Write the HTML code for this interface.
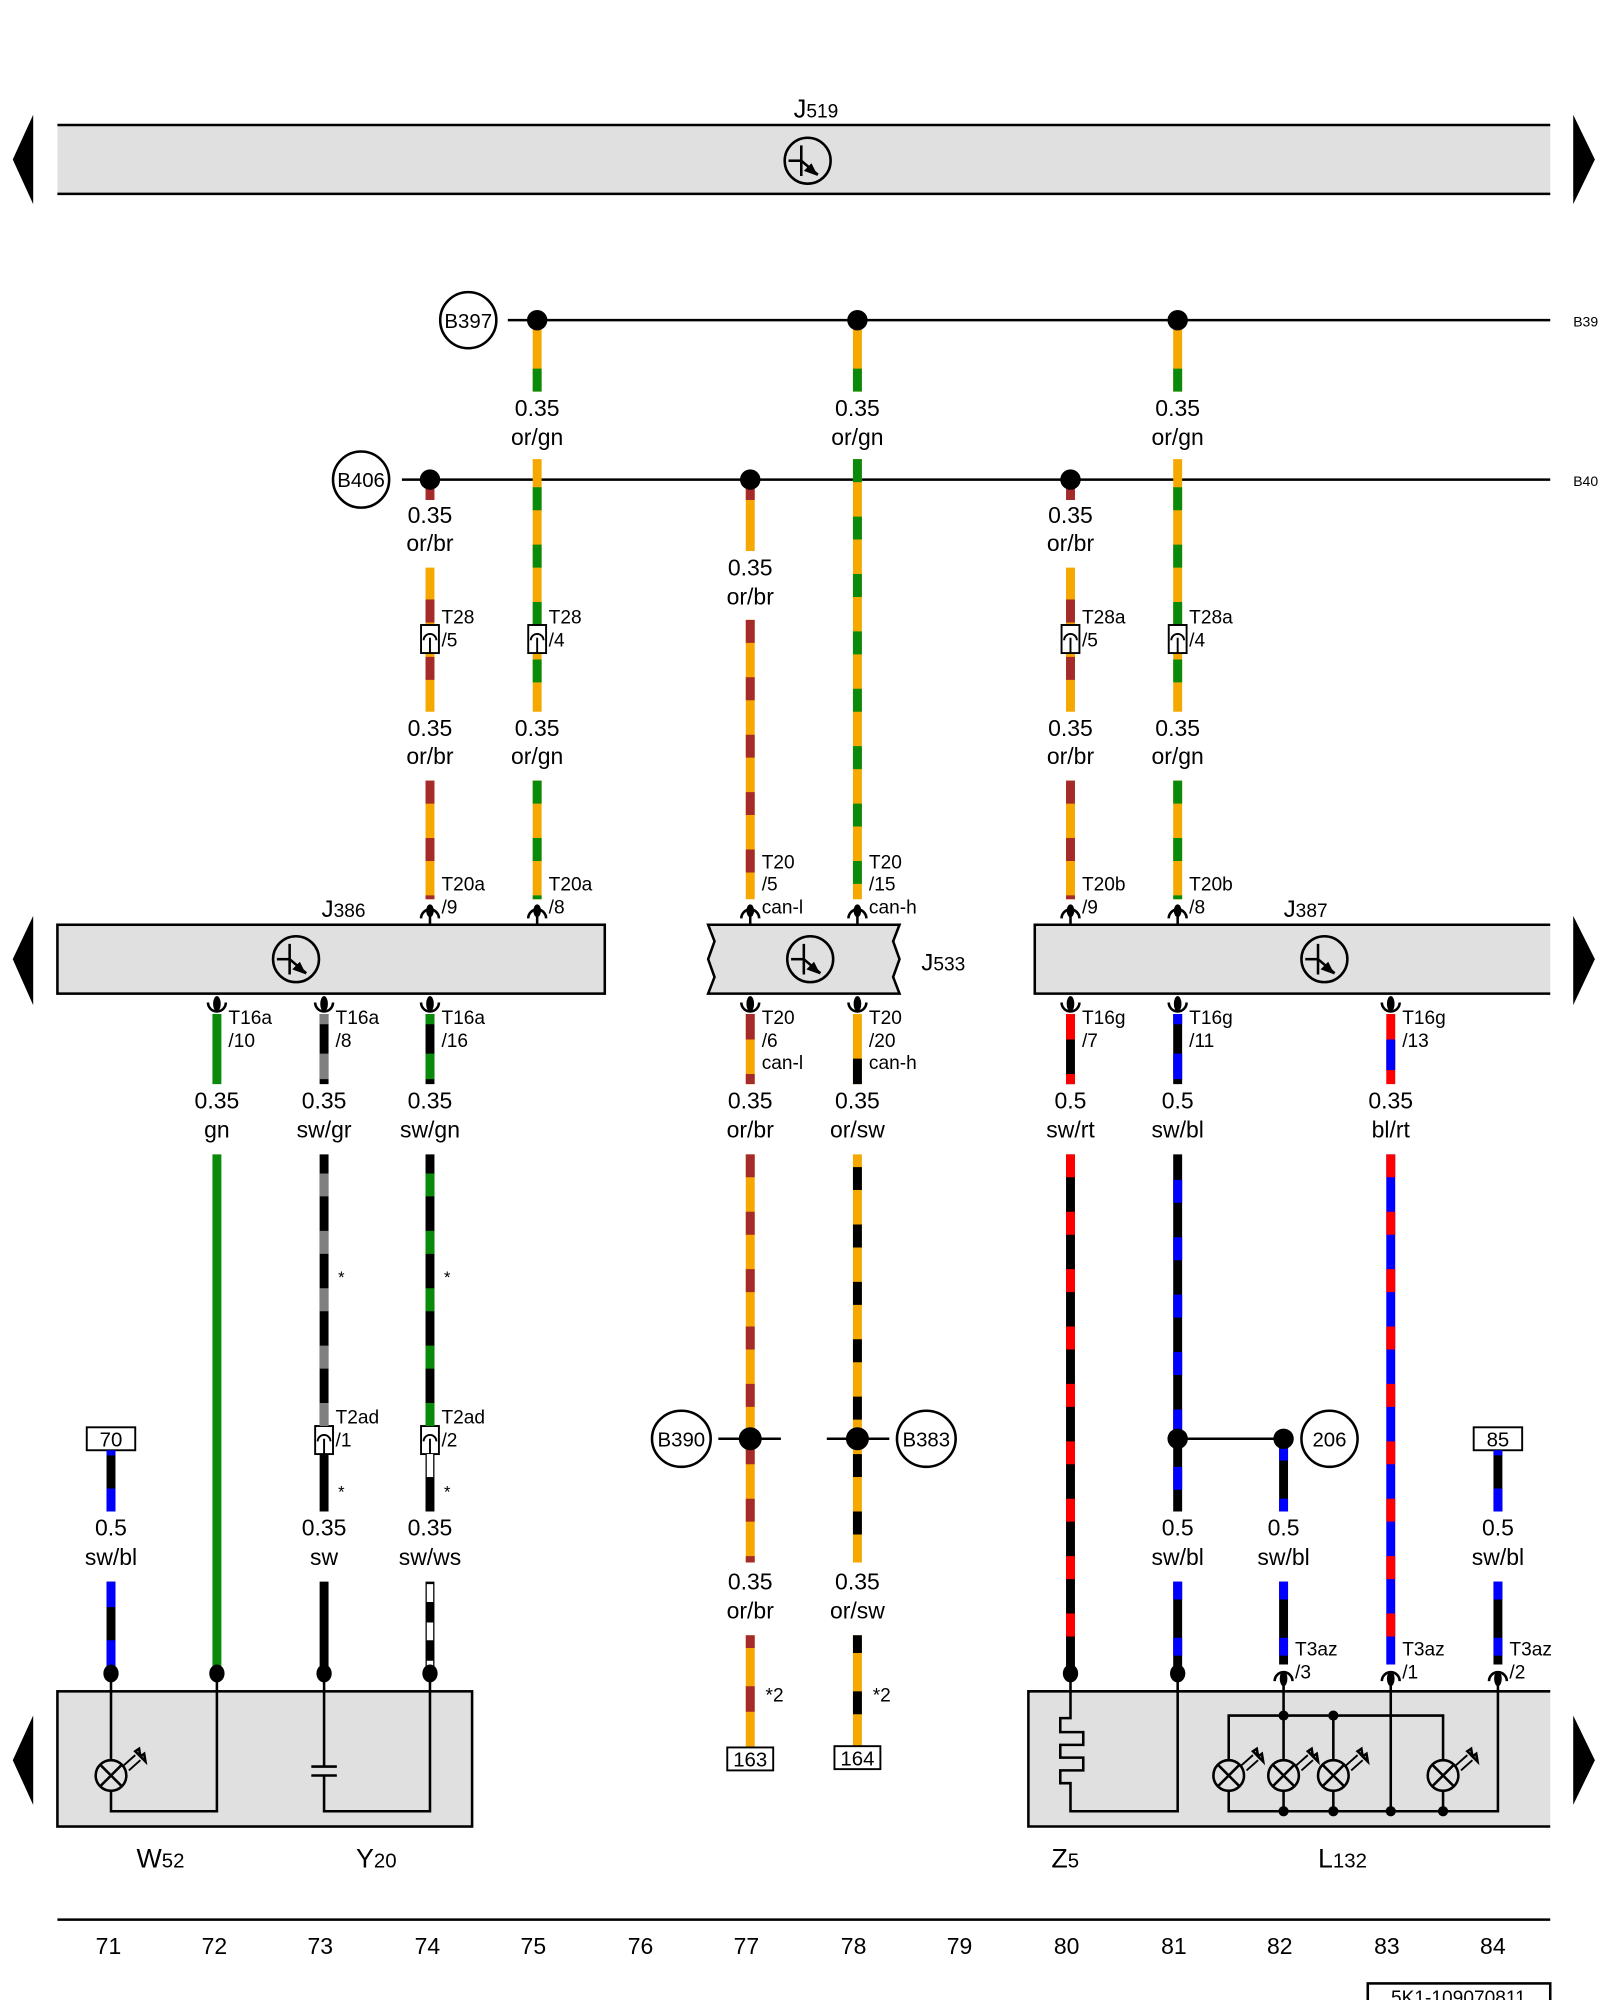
<!DOCTYPE html>
<html><head><meta charset="utf-8"><style>
html,body{margin:0;padding:0;background:#fff}
svg{display:block}
text{font-family:"Liberation Sans",sans-serif;fill:#000}
.l{stroke:#000;stroke-width:2;fill:none}
.t{stroke:#000;stroke-width:1.5;fill:none}
.w{stroke-width:7}
.d{stroke-width:7;stroke-dasharray:18 27}
.g{font-size:18px;text-anchor:middle}
.s{font-size:15px}
.n{font-size:18px;text-anchor:middle}
.gr{fill:#e0e0e0 !important}
.wh{fill:#fff !important}
</style></head><body>
<svg width="1600" height="2000" viewBox="0 0 1254 1568" preserveAspectRatio="none" xmlns="http://www.w3.org/2000/svg">
<!-- J519 -->
<rect x="45" y="98" width="1170" height="54" fill="#e0e0e0"/>
<line class="l" x1="45" y1="98" x2="1215" y2="98"/><line class="l" x1="45" y1="152" x2="1215" y2="152"/>
<polygon points="26,90 10,125 26,160"/><polygon points="1233,90 1250,125 1233,160"/>
<text x="622" y="92" font-size="20">J<tspan font-size="15">519</tspan></text>
<g id="tr"><circle cx="633" cy="126" r="18" class="l"/><line class="l" x1="628" y1="114" x2="628" y2="138"/><line class="l" x1="618" y1="126" x2="628" y2="126"/><line class="l" x1="628" y1="126" x2="641" y2="137"/><polygon points="641,138 630,134 636,128"/></g>

<!-- buses -->
<line class="l" x1="398" y1="251" x2="1215" y2="251"/>
<ellipse cx="367" cy="251" rx="22" ry="22" class="l wh"/><text x="367" y="257" font-size="16" text-anchor="middle">B397</text>
<text x="1233" y="256" font-size="11">B39</text>
<line class="l" x1="315" y1="376" x2="1215" y2="376"/>
<ellipse cx="283" cy="376" rx="22" ry="22" class="l wh"/><text x="283" y="382" font-size="16" text-anchor="middle">B406</text>
<text x="1233" y="381" font-size="11">B40</text>

<!-- top wires or/gn cols 421,672,923 -->
<g>
<line class="w" stroke="#f5a800" x1="421" y1="251" x2="421" y2="307"/><line class="d" stroke="#0a8a0a" x1="421" y1="262" x2="421" y2="307" style="stroke-dashoffset:-27"/>
<line class="w" stroke="#f5a800" x1="672" y1="251" x2="672" y2="307"/><line class="d" stroke="#0a8a0a" x1="672" y1="262" x2="672" y2="307" style="stroke-dashoffset:-27"/>
<line class="w" stroke="#f5a800" x1="923" y1="251" x2="923" y2="307"/><line class="d" stroke="#0a8a0a" x1="923" y1="262" x2="923" y2="307" style="stroke-dashoffset:-27"/>
</g>
<text class="g" x="421" y="326">0.35</text><text class="g" x="421" y="349">or/gn</text>
<text class="g" x="672" y="326">0.35</text><text class="g" x="672" y="349">or/gn</text>
<text class="g" x="923" y="326">0.35</text><text class="g" x="923" y="349">or/gn</text>

<line class="w" stroke="#f5a800" x1="421" y1="360" x2="421" y2="558"/><line class="d" stroke="#0a8a0a" x1="421" y1="382" x2="421" y2="558"/>
<line class="w" stroke="#f5a800" x1="421" y1="612" x2="421" y2="705"/><line class="d" stroke="#0a8a0a" x1="421" y1="612" x2="421" y2="705"/>
<line class="w" stroke="#f5a800" x1="923" y1="360" x2="923" y2="558"/><line class="d" stroke="#0a8a0a" x1="923" y1="382" x2="923" y2="558"/>
<line class="w" stroke="#f5a800" x1="923" y1="612" x2="923" y2="705"/><line class="d" stroke="#0a8a0a" x1="923" y1="612" x2="923" y2="705"/>
<line class="w" stroke="#f5a800" x1="672" y1="360" x2="672" y2="705"/><line class="d" stroke="#0a8a0a" x1="672" y1="360" x2="672" y2="705"/>
<line class="w" stroke="#a52a2a" x1="337" y1="376" x2="337" y2="392"/>
<line class="w" stroke="#f5a800" x1="337" y1="445" x2="337" y2="558"/><line class="d" stroke="#a52a2a" x1="337" y1="470" x2="337" y2="558"/>
<line class="w" stroke="#f5a800" x1="337" y1="612" x2="337" y2="705"/><line class="d" stroke="#a52a2a" x1="337" y1="612" x2="337" y2="705"/>
<line class="w" stroke="#a52a2a" x1="839" y1="376" x2="839" y2="392"/>
<line class="w" stroke="#f5a800" x1="839" y1="445" x2="839" y2="558"/><line class="d" stroke="#a52a2a" x1="839" y1="470" x2="839" y2="558"/>
<line class="w" stroke="#f5a800" x1="839" y1="612" x2="839" y2="705"/><line class="d" stroke="#a52a2a" x1="839" y1="612" x2="839" y2="705"/>
<line class="w" stroke="#f5a800" x1="588" y1="376" x2="588" y2="432"/><line class="d" stroke="#a52a2a" x1="588" y1="376" x2="588" y2="432" style="stroke-dasharray:16 42 20 99"/>
<line class="w" stroke="#f5a800" x1="588" y1="486" x2="588" y2="705"/><line class="d" stroke="#a52a2a" x1="588" y1="486" x2="588" y2="705"/>

<circle cx="421" cy="251" r="8"/><circle cx="672" cy="251" r="8"/><circle cx="923" cy="251" r="8"/>
<circle cx="337" cy="376" r="8"/><circle cx="588" cy="376" r="8"/><circle cx="839" cy="376" r="8"/>

<text class="g" x="337" y="410">0.35</text><text class="g" x="337" y="432">or/br</text>
<text class="g" x="839" y="410">0.35</text><text class="g" x="839" y="432">or/br</text>
<text class="g" x="588" y="451">0.35</text><text class="g" x="588" y="474">or/br</text>
<text class="g" x="337" y="577">0.35</text><text class="g" x="337" y="599">or/br</text>
<text class="g" x="421" y="577">0.35</text><text class="g" x="421" y="599">or/gn</text>
<text class="g" x="839" y="577">0.35</text><text class="g" x="839" y="599">or/br</text>
<text class="g" x="923" y="577">0.35</text><text class="g" x="923" y="599">or/gn</text>

<!-- inline connectors -->
<g class="t wh">
<rect x="330" y="490" width="14" height="22"/><rect x="414" y="490" width="14" height="22"/>
<rect x="832" y="490" width="14" height="22"/><rect x="916" y="490" width="14" height="22"/>
<rect x="247" y="1118" width="14" height="22"/><rect x="330" y="1118" width="14" height="22"/>
</g>
<g class="t">
<path d="M332,502 A5,5 0 0 1 342,502 M337,500 V512"/><path d="M416,502 A5,5 0 0 1 426,502 M421,500 V512"/>
<path d="M834,502 A5,5 0 0 1 844,502 M839,500 V512"/><path d="M918,502 A5,5 0 0 1 928,502 M923,500 V512"/>
<path d="M249,1130 A5,5 0 0 1 259,1130 M254,1128 V1140"/><path d="M332,1130 A5,5 0 0 1 342,1130 M337,1128 V1140"/>
</g>
<g class="s">
<text x="346" y="489">T28</text><text x="346" y="507">/5</text>
<text x="430" y="489">T28</text><text x="430" y="507">/4</text>
<text x="848" y="489">T28a</text><text x="848" y="507">/5</text>
<text x="932" y="489">T28a</text><text x="932" y="507">/4</text>
<text x="263" y="1116">T2ad</text><text x="263" y="1134">/1</text>
<text x="346" y="1116">T2ad</text><text x="346" y="1134">/2</text>
</g>

<!-- module boxes -->
<rect x="45" y="725" width="429" height="54" class="l gr"/>
<path d="M555,725 H705 L700,738 L705,752 L700,766 L705,779 H555 L560,766 L555,752 L560,738 Z" class="l gr"/>
<rect x="811" y="725" width="404" height="54" fill="#e0e0e0"/>
<path class="l" d="M1215,725 H811 V779 H1215"/>
<polygon points="26,718 10,752 26,788"/><polygon points="1233,718 1250,752 1233,788"/>
<use href="#tr" transform="translate(-401,626)"/>
<use href="#tr" transform="translate(2,626)"/>
<use href="#tr" transform="translate(405,626)"/>
<text x="252" y="719" font-size="19">J<tspan font-size="15">386</tspan></text>
<text x="1006" y="719" font-size="19">J<tspan font-size="15">387</tspan></text>
<text x="722" y="761" font-size="19">J<tspan font-size="15">533</tspan></text>

<g class="l" stroke-width="2.5">
<path d="M330,720 A7,7 0 0 1 344,720"/><path d="M414,720 A7,7 0 0 1 428,720"/>
<path d="M581,720 A7,7 0 0 1 595,720"/><path d="M665,720 A7,7 0 0 1 679,720"/>
<path d="M832,720 A7,7 0 0 1 846,720"/><path d="M916,720 A7,7 0 0 1 930,720"/>
</g>
<g stroke="#000" stroke-width="2">
<line x1="337" y1="710" x2="337" y2="725"/><line x1="421" y1="710" x2="421" y2="725"/>
<line x1="588" y1="710" x2="588" y2="725"/><line x1="672" y1="710" x2="672" y2="725"/>
<line x1="839" y1="710" x2="839" y2="725"/><line x1="923" y1="710" x2="923" y2="725"/>
</g>
<g fill="#000"><ellipse cx="337" cy="714" rx="3" ry="5"/><ellipse cx="421" cy="714" rx="3" ry="5"/><ellipse cx="588" cy="714" rx="3" ry="5"/><ellipse cx="672" cy="714" rx="3" ry="5"/><ellipse cx="839" cy="714" rx="3" ry="5"/><ellipse cx="923" cy="714" rx="3" ry="5"/></g>
<g class="s">
<text x="346" y="698">T20a</text><text x="346" y="716">/9</text>
<text x="430" y="698">T20a</text><text x="430" y="716">/8</text>
<text x="597" y="681">T20</text><text x="597" y="698">/5</text><text x="597" y="716">can-l</text>
<text x="681" y="681">T20</text><text x="681" y="698">/15</text><text x="681" y="716">can-h</text>
<text x="848" y="698">T20b</text><text x="848" y="716">/9</text>
<text x="932" y="698">T20b</text><text x="932" y="716">/8</text>
</g>

<g class="l" stroke-width="2.5">
<path d="M163,786 A7,7 0 0 0 177,786"/><path d="M247,786 A7,7 0 0 0 261,786"/><path d="M330,786 A7,7 0 0 0 344,786"/>
<path d="M581,786 A7,7 0 0 0 595,786"/><path d="M665,786 A7,7 0 0 0 679,786"/>
<path d="M832,786 A7,7 0 0 0 846,786"/><path d="M916,786 A7,7 0 0 0 930,786"/><path d="M1083,786 A7,7 0 0 0 1097,786"/>
</g>
<g fill="#000"><ellipse cx="170" cy="787" rx="3" ry="6"/><ellipse cx="254" cy="787" rx="3" ry="6"/><ellipse cx="337" cy="787" rx="3" ry="6"/><ellipse cx="588" cy="787" rx="3" ry="6"/><ellipse cx="672" cy="787" rx="3" ry="6"/><ellipse cx="839" cy="787" rx="3" ry="6"/><ellipse cx="923" cy="787" rx="3" ry="6"/><ellipse cx="1090" cy="787" rx="3" ry="6"/></g>
<g class="s">
<text x="179" y="803">T16a</text><text x="179" y="821">/10</text>
<text x="263" y="803">T16a</text><text x="263" y="821">/8</text>
<text x="346" y="803">T16a</text><text x="346" y="821">/16</text>
<text x="597" y="803">T20</text><text x="597" y="821">/6</text><text x="597" y="838">can-l</text>
<text x="681" y="803">T20</text><text x="681" y="821">/20</text><text x="681" y="838">can-h</text>
<text x="848" y="803">T16g</text><text x="848" y="821">/7</text>
<text x="932" y="803">T16g</text><text x="932" y="821">/11</text>
<text x="1099" y="803">T16g</text><text x="1099" y="821">/13</text>
</g>

<line class="w" stroke="#0a8a0a" x1="170" y1="795" x2="170" y2="850"/>
<line class="w" stroke="#000" x1="254" y1="795" x2="254" y2="850"/><line class="d" stroke="#808080" x1="254" y1="795" x2="254" y2="850" style="stroke-dasharray:8 23 20 99"/>
<line class="w" stroke="#000" x1="337" y1="795" x2="337" y2="850"/><line class="d" stroke="#0a8a0a" x1="337" y1="795" x2="337" y2="850" style="stroke-dasharray:8 23 20 99"/>
<line class="w" stroke="#f5a800" x1="588" y1="795" x2="588" y2="850"/><line class="d" stroke="#a52a2a" x1="588" y1="795" x2="588" y2="850" style="stroke-dasharray:20 27 8 99"/>
<line class="w" stroke="#f5a800" x1="672" y1="795" x2="672" y2="850"/><line class="d" stroke="#000" x1="672" y1="795" x2="672" y2="850" style="stroke-dasharray:0 35 20 99"/>
<line class="w" stroke="#000" x1="839" y1="795" x2="839" y2="850"/><line class="d" stroke="#ff0000" x1="839" y1="795" x2="839" y2="850" style="stroke-dasharray:20 27 8 99"/>
<line class="w" stroke="#000" x1="923" y1="795" x2="923" y2="850"/><line class="d" stroke="#0000ff" x1="923" y1="795" x2="923" y2="850" style="stroke-dasharray:8 23 20 99"/>
<line class="w" stroke="#ff0000" x1="1090" y1="795" x2="1090" y2="850"/><line class="d" stroke="#0000ff" x1="1090" y1="795" x2="1090" y2="850" style="stroke-dasharray:0 20 24 99"/>

<text class="g" x="170" y="869">0.35</text><text class="g" x="170" y="892">gn</text>
<text class="g" x="254" y="869">0.35</text><text class="g" x="254" y="892">sw/gr</text>
<text class="g" x="337" y="869">0.35</text><text class="g" x="337" y="892">sw/gn</text>
<text class="g" x="588" y="869">0.35</text><text class="g" x="588" y="892">or/br</text>
<text class="g" x="672" y="869">0.35</text><text class="g" x="672" y="892">or/sw</text>
<text class="g" x="839" y="869">0.5</text><text class="g" x="839" y="892">sw/rt</text>
<text class="g" x="923" y="869">0.5</text><text class="g" x="923" y="892">sw/bl</text>
<text class="g" x="1090" y="869">0.35</text><text class="g" x="1090" y="892">bl/rt</text>

<line class="w" stroke="#0a8a0a" x1="170" y1="905" x2="170" y2="1312"/>
<line class="w" stroke="#000" x1="254" y1="905" x2="254" y2="1118"/><line class="d" stroke="#808080" x1="254" y1="920" x2="254" y2="1118"/>
<line class="w" stroke="#000" x1="337" y1="905" x2="337" y2="1118"/><line class="d" stroke="#0a8a0a" x1="337" y1="920" x2="337" y2="1118"/>
<text x="265" y="1006" font-size="13">*</text><text x="348" y="1006" font-size="13">*</text>
<line class="w" stroke="#000" x1="254" y1="1140" x2="254" y2="1185"/>
<line class="w" stroke="#000" x1="337" y1="1140" x2="337" y2="1185"/><rect x="334.5" y="1140" width="5" height="18" fill="#fff"/>
<text x="265" y="1174" font-size="13">*</text><text x="348" y="1174" font-size="13">*</text>
<line class="w" stroke="#f5a800" x1="588" y1="905" x2="588" y2="1225"/><line class="d" stroke="#a52a2a" x1="588" y1="905" x2="588" y2="1225"/>
<line class="w" stroke="#f5a800" x1="672" y1="905" x2="672" y2="1225"/><line class="d" stroke="#000" x1="672" y1="915" x2="672" y2="1225"/>
<line class="w" stroke="#000" x1="839" y1="905" x2="839" y2="1312"/><line class="d" stroke="#ff0000" x1="839" y1="905" x2="839" y2="1312"/>
<line class="w" stroke="#000" x1="923" y1="905" x2="923" y2="1185"/><line class="d" stroke="#0000ff" x1="923" y1="925" x2="923" y2="1185"/>
<line class="w" stroke="#0000ff" x1="1090" y1="905" x2="1090" y2="1305"/><line class="d" stroke="#ff0000" x1="1090" y1="905" x2="1090" y2="1305"/>
<line class="l" x1="923" y1="1128" x2="1006" y2="1128"/>
<line class="w" stroke="#000" x1="1006" y1="1128" x2="1006" y2="1185"/><line class="d" stroke="#0000ff" x1="1006" y1="1135" x2="1006" y2="1185" style="stroke-dasharray:10 30 12 99"/>
<circle cx="923" cy="1128" r="8"/><circle cx="1006" cy="1128" r="8"/>
<ellipse cx="1042" cy="1128" rx="22" ry="22" class="l wh"/><text x="1042" y="1134" font-size="16" text-anchor="middle">206</text>
<line class="l" x1="563" y1="1128" x2="612" y2="1128"/><line class="l" x1="648" y1="1128" x2="697" y2="1128"/>
<circle cx="588" cy="1128" r="9"/><circle cx="672" cy="1128" r="9"/>
<ellipse cx="534" cy="1128" rx="23" ry="22" class="l wh"/><text x="534" y="1134" font-size="16" text-anchor="middle">B390</text>
<ellipse cx="726" cy="1128" rx="23" ry="22" class="l wh"/><text x="726" y="1134" font-size="16" text-anchor="middle">B383</text>

<rect x="68" y="1119" width="38" height="18" class="t wh"/><text x="87" y="1134" font-size="16" text-anchor="middle">70</text>
<rect x="1155" y="1119" width="38" height="18" class="t wh"/><text x="1174" y="1134" font-size="16" text-anchor="middle">85</text>
<line class="w" stroke="#000" x1="87" y1="1137" x2="87" y2="1185"/><line class="d" stroke="#0000ff" x1="87" y1="1137" x2="87" y2="1185" style="stroke-dasharray:4 26 20 99"/>
<line class="w" stroke="#000" x1="1174" y1="1137" x2="1174" y2="1185"/><line class="d" stroke="#0000ff" x1="1174" y1="1137" x2="1174" y2="1185" style="stroke-dasharray:4 26 20 99"/>

<text class="g" x="87" y="1204">0.5</text><text class="g" x="87" y="1227">sw/bl</text>
<text class="g" x="254" y="1204">0.35</text><text class="g" x="254" y="1227">sw</text>
<text class="g" x="337" y="1204">0.35</text><text class="g" x="337" y="1227">sw/ws</text>
<text class="g" x="923" y="1204">0.5</text><text class="g" x="923" y="1227">sw/bl</text>
<text class="g" x="1006" y="1204">0.5</text><text class="g" x="1006" y="1227">sw/bl</text>
<text class="g" x="1174" y="1204">0.5</text><text class="g" x="1174" y="1227">sw/bl</text>
<text class="g" x="588" y="1246">0.35</text><text class="g" x="588" y="1269">or/br</text>
<text class="g" x="672" y="1246">0.35</text><text class="g" x="672" y="1269">or/sw</text>

<line class="w" stroke="#000" x1="87" y1="1240" x2="87" y2="1312"/><line class="d" stroke="#0000ff" x1="87" y1="1240" x2="87" y2="1312" style="stroke-dasharray:20 26"/>
<line class="w" stroke="#000" x1="254" y1="1240" x2="254" y2="1312"/>
<line class="w" stroke="#000" x1="337" y1="1240" x2="337" y2="1312"/><line class="d" stroke="#fff" x1="337" y1="1242" x2="337" y2="1312" style="stroke-dasharray:14 16;stroke-width:5"/>
<line class="w" stroke="#000" x1="923" y1="1240" x2="923" y2="1312"/><line class="d" stroke="#0000ff" x1="923" y1="1240" x2="923" y2="1312" style="stroke-dasharray:14 30"/>
<line class="w" stroke="#000" x1="1006" y1="1240" x2="1006" y2="1305"/><line class="d" stroke="#0000ff" x1="1006" y1="1240" x2="1006" y2="1305" style="stroke-dasharray:14 30"/>
<line class="w" stroke="#000" x1="1174" y1="1240" x2="1174" y2="1305"/><line class="d" stroke="#0000ff" x1="1174" y1="1240" x2="1174" y2="1305" style="stroke-dasharray:14 30"/>
<line class="w" stroke="#f5a800" x1="588" y1="1282" x2="588" y2="1370"/><line class="d" stroke="#a52a2a" x1="588" y1="1282" x2="588" y2="1370" style="stroke-dasharray:10 30 20 99"/>
<line class="w" stroke="#f5a800" x1="672" y1="1282" x2="672" y2="1370"/><line class="d" stroke="#000" x1="672" y1="1282" x2="672" y2="1370" style="stroke-dasharray:14 30 18 99"/>
<text x="600" y="1334" font-size="15">*2</text><text x="684" y="1334" font-size="15">*2</text>
<rect x="570" y="1370" width="36" height="18" class="t wh"/><text x="588" y="1385" font-size="16" text-anchor="middle">163</text>
<rect x="654" y="1369" width="36" height="18" class="t wh"/><text x="672" y="1384" font-size="16" text-anchor="middle">164</text>

<g class="l" stroke-width="2.5">
<path d="M999,1318 A7,7 0 0 1 1013,1318"/><path d="M1083,1318 A7,7 0 0 1 1097,1318"/><path d="M1167,1318 A7,7 0 0 1 1181,1318"/>
</g>
<g class="s">
<text x="1015" y="1298">T3az</text><text x="1015" y="1316">/3</text>
<text x="1099" y="1298">T3az</text><text x="1099" y="1316">/1</text>
<text x="1183" y="1298">T3az</text><text x="1183" y="1316">/2</text>
</g>

<rect x="45" y="1326" width="325" height="106" class="l gr"/>
<rect x="806" y="1326" width="409" height="106" fill="#e0e0e0"/>
<path class="l" d="M1215,1326 H806 V1432 H1215"/>
<polygon points="26,1345 10,1380 26,1415"/><polygon points="1233,1345 1250,1380 1233,1415"/>

<g class="l">
<path d="M87,1312 V1380 M87,1404 V1420 H170 V1312"/>
<path d="M254,1312 V1385 M254,1392 V1420 H337 V1312 M244,1385 H264 M244,1392 H264"/>
<path d="M839,1312 V1347 H831 V1358 H849 V1368 H831 V1378 H849 V1388 H831 V1398 H839 V1420 H923 V1312"/>
<path d="M1006,1312 V1345 M963,1380 V1345 H1131 V1380 M1006,1345 V1380 M1045,1345 V1380 M963,1404 V1420 H1174 V1312 M1006,1404 V1420 M1045,1404 V1420 M1131,1404 V1420 M1090,1312 V1420"/>
</g>
<g id="lamp" class="l"><circle cx="87" cy="1392" r="12"/><path d="M79,1384 L95,1400 M95,1384 L79,1400"/>
<path d="M97,1384 L106,1376 M101,1388 L110,1380" stroke-width="1.5"/><polygon points="106,1373 110,1377 109,1371" stroke-width="2"/><polygon points="110,1377 114,1381 113,1375" stroke-width="2"/></g>
<use href="#lamp" transform="translate(876,0)"/>
<use href="#lamp" transform="translate(919,0)"/>
<use href="#lamp" transform="translate(958,0)"/>
<use href="#lamp" transform="translate(1044,0)"/>
<g fill="#000">
<circle cx="1006" cy="1345" r="4"/><circle cx="1045" cy="1345" r="4"/>
<circle cx="1006" cy="1420" r="4"/><circle cx="1045" cy="1420" r="4"/><circle cx="1090" cy="1420" r="4"/><circle cx="1131" cy="1420" r="4"/>
</g>
<g fill="#000">
<ellipse cx="87" cy="1312" rx="6" ry="7"/><ellipse cx="170" cy="1312" rx="6" ry="7"/><ellipse cx="254" cy="1312" rx="6" ry="7"/><ellipse cx="337" cy="1312" rx="6" ry="7"/>
<ellipse cx="839" cy="1312" rx="6" ry="7"/><ellipse cx="923" cy="1312" rx="6" ry="7"/>
<ellipse cx="1006" cy="1316" rx="3" ry="6"/><ellipse cx="1090" cy="1316" rx="3" ry="6"/><ellipse cx="1174" cy="1316" rx="3" ry="6"/>
</g>

<text x="107" y="1464" font-size="21">W<tspan font-size="16">52</tspan></text>
<text x="279" y="1464" font-size="21">Y<tspan font-size="16">20</tspan></text>
<text x="824" y="1464" font-size="21">Z<tspan font-size="16">5</tspan></text>
<text x="1033" y="1464" font-size="21">L<tspan font-size="16">132</tspan></text>

<line class="l" x1="45" y1="1505" x2="1215" y2="1505"/>
<g class="n">
<text x="85" y="1532">71</text><text x="168" y="1532">72</text><text x="251" y="1532">73</text><text x="335" y="1532">74</text><text x="418" y="1532">75</text><text x="502" y="1532">76</text><text x="585" y="1532">77</text><text x="669" y="1532">78</text><text x="752" y="1532">79</text><text x="836" y="1532">80</text><text x="920" y="1532">81</text><text x="1003" y="1532">82</text><text x="1087" y="1532">83</text><text x="1170" y="1532">84</text>
</g>
<rect x="1072" y="1555" width="143" height="20" class="l wh"/>
<text x="1143" y="1571" font-size="15" text-anchor="middle">5K1-109070811</text>
</svg>
</body></html>
